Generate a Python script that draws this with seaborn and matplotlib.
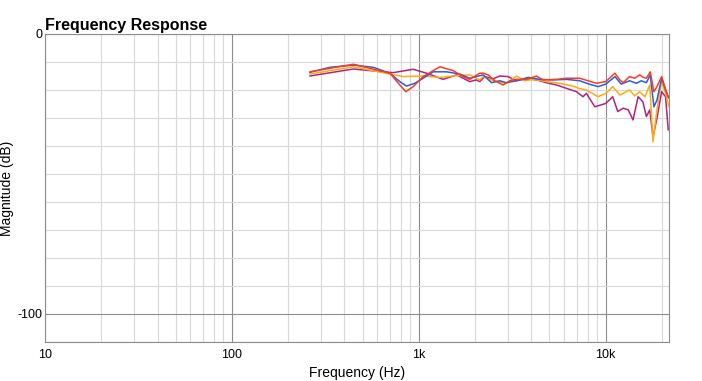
#!/usr/bin/env python3
# frequency response plot, four measurements on a log frequency axis
import pandas as pd
import seaborn as sns
import matplotlib
matplotlib.use("Agg")
import matplotlib.pyplot as plt
from matplotlib.ticker import FixedLocator, FuncFormatter, NullFormatter

# values (Hz, dB)
blue_hz = [261, 334, 446, 570, 700, 791, 859, 952, 1055, 1194, 1406, 1656, 1873,
           2032, 2210, 2450, 2710, 2940, 3330, 3850, 4440, 5230, 6160, 7260, 8150,
           9100, 10000, 11200, 12100, 13400, 14600, 15500, 16500, 17300, 18100,
           18800, 19900, 20900, 21800]
blue_db = [-13.7, -11.9, -11.1, -11.9, -14.0, -17.0, -18.6, -17.6, -15.8, -13.5,
           -13.5, -14.3, -15.8, -15.2, -14.6, -17.4, -16.7, -17.4, -16.7, -15.5,
           -16.2, -16.4, -16.2, -16.7, -17.9, -18.8, -17.9, -15.2, -17.9, -16.7,
           -17.6, -16.7, -17.4, -14.6, -26.0, -23.6, -15.8, -20.0, -23.0]

red_hz = [261, 446, 700, 791, 852, 933, 1055, 1295, 1527, 1726, 1873, 2118, 2210,
          2350, 2550, 2820, 3070, 3330, 3770, 4260, 4620, 5450, 6160, 6970, 7260,
          8910, 10000, 11200, 11900, 12400, 13400, 14300, 15200, 15800, 16500,
          17300, 18100, 18800, 19900, 20700, 21500]
red_db = [-13.5, -10.8, -14.0, -18.2, -20.6, -18.8, -15.2, -11.7, -13.1, -15.2,
          -16.2, -14.0, -14.0, -14.6, -16.7, -18.2, -16.7, -16.2, -16.2, -15.0,
          -16.4, -16.2, -15.8, -15.8, -15.8, -17.6, -17.0, -14.0, -16.4, -17.4,
          -15.2, -15.8, -14.6, -15.4, -15.8, -13.5, -20.6, -18.8, -15.2, -18.8,
          -22.4]

orange_hz = [261, 446, 700, 824, 1055, 1295, 1527, 1873, 2118, 2210, 2500, 2940,
             3330, 3690, 4090, 4820, 5670, 6680, 7260, 7880, 9100, 10000, 10900,
             11900, 13400, 14300, 15200, 16200, 17200, 17900, 18800, 19900, 20900,
             21800]
orange_db = [-14.3, -11.7, -14.3, -15.2, -15.0, -15.5, -15.0, -14.6, -16.4, -15.2,
             -16.7, -17.6, -15.0, -16.7, -16.2, -17.0, -17.6, -18.6, -19.5, -20.0,
             -22.4, -21.2, -18.8, -21.8, -20.0, -22.1, -20.6, -22.4, -18.2, -38.5,
             -27.0, -17.0, -21.2, -26.0]

purple_hz = [261, 446, 644, 729, 933, 1099, 1349, 1592, 1873, 2032, 2120, 2250,
             2500, 2710, 3000, 3330, 3770, 4260, 4820, 5450, 6160, 6970, 7560,
             7880, 8740, 10000, 10900, 11600, 12400, 13200, 14000, 14900, 15800,
             16500, 17200, 17900, 18800, 19900, 20900, 21600]
purple_db = [-15.0, -12.5, -13.5, -13.8, -12.6, -14.0, -16.2, -14.6, -17.0, -16.4,
             -17.0, -15.2, -16.0, -15.0, -15.2, -16.7, -16.0, -16.4, -17.4, -18.2,
             -19.4, -20.6, -22.4, -21.2, -26.0, -24.8, -22.4, -27.7, -26.5, -27.1,
             -30.7, -22.4, -24.2, -29.5, -27.1, -36.7, -30.1, -20.6, -22.4, -34.3]

series = {"blue": (blue_hz, blue_db), "red": (red_hz, red_db),
          "orange": (orange_hz, orange_db), "purple": (purple_hz, purple_db)}
palette = {"blue": "#2461e0", "red": "#ff3a1e", "orange": "#ffaa14",
           "purple": "#b02480"}

rows = []
for name, (hz, db) in series.items():
    for f, d in zip(hz, db):
        rows.append({"trace": name, "freq": f, "mag": d})
df = pd.DataFrame(rows)

sns.set_style("white")
plt.rcParams["font.family"] = ["Liberation Sans", "DejaVu Sans"]
plt.rcParams["axes.unicode_minus"] = False
plt.rcParams["text.color"] = "black"
plt.rcParams["axes.labelcolor"] = "black"

fig = plt.figure(figsize=(7.02, 3.81), dpi=100)
ax = fig.add_axes([45 / 702, 1 - 342 / 381, 624 / 702, 308 / 381])

for name in ["purple", "orange", "blue", "red"]:
    sns.lineplot(data=df[df["trace"] == name], x="freq", y="mag",
                 color=palette[name], linewidth=1.1, sort=False,
                 estimator=None, ax=ax, legend=False)

ax.set_xscale("log")
ax.set_xlim(10, 21800)
ax.set_ylim(-110, 0)

ax.xaxis.set_major_locator(FixedLocator([10, 100, 1000, 10000]))
minor_x = [m * d for d in [10, 100, 1000, 10000] for m in range(2, 10)
           if m * d < 21800]
ax.xaxis.set_minor_locator(FixedLocator(minor_x))
ax.xaxis.set_major_formatter(FuncFormatter(
    lambda v, p: {10: "10", 100: "100", 1000: "1k", 10000: "10k"}.get(int(round(v)), "")))
ax.xaxis.set_minor_formatter(NullFormatter())

ax.yaxis.set_major_locator(FixedLocator([0, -100]))
ax.yaxis.set_minor_locator(FixedLocator(list(range(-110, 1, 10))))
ax.yaxis.set_minor_formatter(NullFormatter())

ax.grid(which="minor", color="#d8d8d8", linewidth=0.8)
ax.grid(which="major", color="#8c8c8c", linewidth=0.8)
ax.set_axisbelow(True)
for s in ax.spines.values():
    s.set_color("#8c8c8c")
    s.set_linewidth(0.8)

ax.tick_params(which="both", length=0, labelsize=9, colors="black", pad=5)
ax.tick_params(axis="y", pad=2)

ax.set_xlabel("Frequency (Hz)", fontsize=10, labelpad=4, color="black")
ax.set_ylabel("Magnitude (dB)", fontsize=10, color="black")
ax.yaxis.set_label_coords(-31 / 624, 0.5)
ax.set_title("Frequency Response", fontsize=11.5, fontweight="bold",
             loc="left", pad=3, color="black")

fig.savefig("out.png", dpi=100)
